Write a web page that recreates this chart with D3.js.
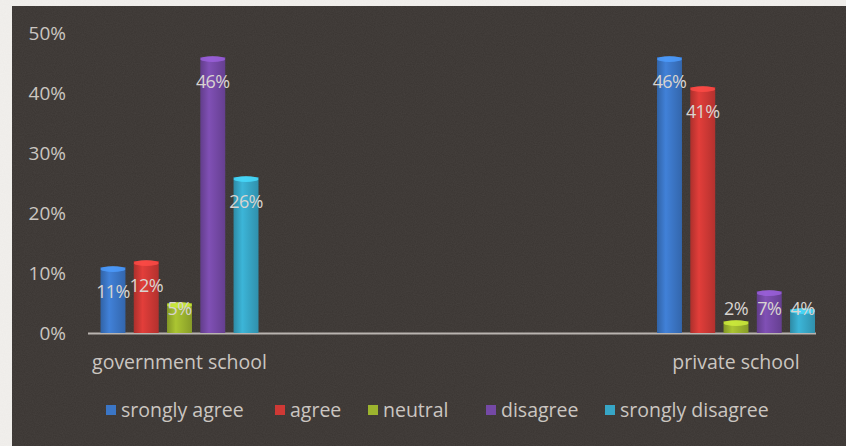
<!DOCTYPE html>
<html>
<head>
<meta charset="utf-8">
<script src="https://cdn.jsdelivr.net/npm/d3@7"></script>
<style>
  body { margin: 0; background: #f2f0ed; }
  svg { display: block; }
</style>
</head>
<body>
<div id="chart"></div>
<script>
// chart values
var schools = ["government school", "private school"];
var answers = ["srongly agree", "agree", "neutral", "disagree", "srongly disagree"];
var governmentValues = [11, 12, 5, 46, 26];
var privateValues = [46, 41, 2, 7, 4];
var yTicks = [0, 10, 20, 30, 40, 50];
var answerColors = ["#3b76c6", "#cf3935", "#9cb42e", "#7549a6", "#37a6c6"];

var width = 846, height = 446;
var fontFamily = "'Open Sans', Lato, sans-serif";

var svg = d3.select("#chart")
  .append("svg")
  .attr("width", width)
  .attr("height", height);

// photo border + dark chart area
svg.append("rect")
  .attr("x", 12).attr("y", 6)
  .attr("width", width - 12).attr("height", height - 6)
  .attr("fill", "#3a3532");

// a bit of grain
var defs = svg.append("defs");
var filter = defs.append("filter").attr("id", "grain");
filter.append("feTurbulence")
  .attr("type", "fractalNoise")
  .attr("baseFrequency", 0.9)
  .attr("numOctaves", 2)
  .attr("seed", 3);
filter.append("feColorMatrix")
  .attr("type", "matrix")
  .attr("values", "0 0 0 0 0.5  0 0 0 0 0.48  0 0 0 0 0.46  0 0 0 0.09 0");
svg.append("rect")
  .attr("x", 12).attr("y", 6)
  .attr("width", width - 12).attr("height", height - 6)
  .attr("filter", "url(#grain)");

var rows = [governmentValues, privateValues];

// scales
var y = d3.scaleLinear().domain([0, 50]).range([333, 33]);
var x = d3.scalePoint().domain(schools).range([179.5, 736]);
var xBar = d3.scaleBand().domain(answers).range([-79, 79]).paddingInner(0.25);

// y axis labels
svg.append("g")
  .selectAll("text")
  .data(yTicks)
  .enter().append("text")
  .attr("x", 66)
  .attr("y", function(d) { return y(d); })
  .attr("dy", "0.35em")
  .attr("text-anchor", "end")
  .attr("fill", "#cbc6c1")
  .style("font-family", fontFamily)
  .style("font-size", "19px")
  .text(function(d) { return d + "%"; });

// baseline
svg.append("line")
  .attr("x1", 88).attr("x2", 816)
  .attr("y1", y(0) + 0.5).attr("y2", y(0) + 0.5)
  .attr("stroke", "#b9b4b0")
  .attr("stroke-width", 2);

// bar gradients (rounded 3d look)
answerColors.forEach(function(c, i) {
  var g = defs.append("linearGradient").attr("id", "bar" + i)
    .attr("x1", 0).attr("x2", 1).attr("y1", 0).attr("y2", 0);
  g.append("stop").attr("offset", "0%").attr("stop-color", d3.color(c).darker(0.5));
  g.append("stop").attr("offset", "35%").attr("stop-color", d3.color(c).brighter(0.25));
  g.append("stop").attr("offset", "100%").attr("stop-color", d3.color(c).darker(0.4));
});

var groups = svg.selectAll(".school")
  .data(schools)
  .enter().append("g")
  .attr("class", "school")
  .attr("transform", function(d) { return "translate(" + x(d) + ",0)"; });

groups.each(function(school, si) {
  var g = d3.select(this);
  var vals = rows[si];

  g.selectAll("rect.bar")
    .data(vals)
    .enter().append("rect")
    .attr("class", "bar")
    .attr("x", function(d, i) { return xBar(answers[i]); })
    .attr("y", function(d) { return y(d); })
    .attr("width", xBar.bandwidth())
    .attr("height", function(d) { return y(0) - y(d); })
    .attr("fill", function(d, i) { return "url(#bar" + i + ")"; });

  // lighter top cap
  g.selectAll("ellipse.cap")
    .data(vals)
    .enter().append("ellipse")
    .attr("class", "cap")
    .attr("cx", function(d, i) { return xBar(answers[i]) + xBar.bandwidth() / 2; })
    .attr("cy", function(d) { return y(d) + 2; })
    .attr("rx", xBar.bandwidth() / 2)
    .attr("ry", 3)
    .attr("fill", function(d, i) { return d3.color(answerColors[i]).brighter(0.8); })
    .attr("opacity", 0.8);

  g.selectAll("text.val")
    .data(vals)
    .enter().append("text")
    .attr("class", "val")
    .attr("x", function(d, i) { return xBar(answers[i]) + xBar.bandwidth() / 2; })
    .attr("y", function(d) { return Math.min(y(d) + 25, y(0) - 24); })
    .attr("dy", "0.35em")
    .attr("text-anchor", "middle")
    .attr("fill", "#d8d4d0")
    .style("font-family", fontFamily)
    .style("font-size", "18px")
    .style("letter-spacing", "-0.6px")
    .text(function(d) { return d + "%"; });

  g.append("text")
    .attr("x", 0)
    .attr("y", 362)
    .attr("dy", "0.35em")
    .attr("text-anchor", "middle")
    .attr("fill", "#cbc6c1")
    .style("font-family", fontFamily)
    .style("font-size", "19.5px")
    .text(school);
});

// legend
var legendX = [106, 275, 368, 486, 605];
var legend = svg.selectAll(".legend")
  .data(answers)
  .enter().append("g")
  .attr("class", "legend")
  .attr("transform", function(d, i) { return "translate(" + legendX[i] + ",410)"; });

legend.append("rect")
  .attr("x", 0).attr("y", -5)
  .attr("width", 10).attr("height", 10)
  .attr("fill", function(d, i) { return answerColors[i]; });

legend.append("text")
  .attr("x", 15)
  .attr("y", 0)
  .attr("dy", "0.35em")
  .attr("fill", "#cbc6c1")
  .style("font-family", fontFamily)
  .style("font-size", "19.5px")
  .text(function(d) { return d; });
</script>
</body>
</html>
